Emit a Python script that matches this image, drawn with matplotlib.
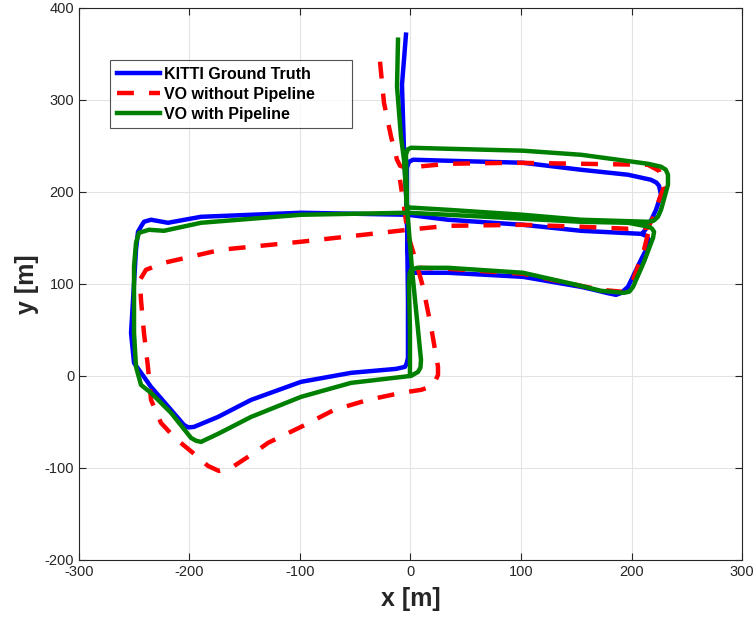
import numpy as np
import matplotlib
matplotlib.use("Agg")
import matplotlib.pyplot as plt

plt.rcParams["font.family"] = ["Liberation Sans", "DejaVu Sans"]
plt.rcParams["axes.unicode_minus"] = False

# KITTI ground truth (x, y in metres)
gt_x = [-4.1, -7.7, -5.9, -3.2, -2.3, -2.3, -3.5, -5.0, -13.1, -53.8, -99.1, -144.3, -174.2, -195.9, -201.0,
        -205.0, -216.7, -234.8, -250.2, -252.9, -251.1, -248.4, -246.6, -243.5, -241.2, -234.8, -219.5,
        -189.6, -99.1, -2.3, 33.9, 101.8, 154.3, 208.6, 213.5, 215.8, 214.5, 208.6, 196.8, 190.5, 186.0,
        178.0, 166.1, 154.3, 101.8, 33.9, 3.2, 0.0, -1.4, -3.2, -3.2, -1.5, 2.3, 33.9, 101.8, 154.3, 196.8,
        217.6, 222.5, 224.9, 226.7, 222.2, 215.8, 210.4]
gt_y = [370.7, 316.3, 245.7, 175.0, 82.6, 19.6, 13.5, 9.8, 7.6, 3.3, -6.5, -26.1, -44.6, -55.4, -56.0,
        -53.3, -37.0, -12.0, 14.1, 46.7, 82.6, 137.0, 156.5, 163.0, 167.4, 169.6, 166.3,
        172.8, 177.2, 175.0, 169.6, 164.1, 157.6, 154.3, 152.0, 147.8, 140.0, 126.1, 96.7, 90.0, 88.0,
        90.0, 93.5, 96.7, 107.6, 112.0, 112.0, 110.5, 106.5, 169.6, 226.1, 232.5, 234.8, 233.7, 231.5,
        223.9, 218.5, 213.0, 210.0, 206.5, 196.7, 180.4, 164.1, 155.4]

# VO without pipeline: main run + lower loop
vo_x = [-27.6, -24.0, -17.6, -12.2, -9.5, -4.1, 33.9, 93.7, 154.3, 214.9, 224.9, 229.4, 224.0, 219.5,
        214.9, 196.8, 154.3, 101.8, 33.9, -2.3, -99.1, -171.5, -223.1, -239.4, -244.8, -243.9, -241.2,
        -237.6, -234.8, -225.8, -212.2, -196.8, -183.3, -173.3, -162.4, -141.6, -129.0, -99.1, -69.2,
        -38.5, -8.6, 9.5, 20.4, 24.9, 24.9, 18.6, 11.3, 3.2, -2.3, -5.9, -9.5]
vo_y = [341.3, 296.7, 259.8, 234.8, 228.3, 226.1, 230.4, 231.5, 230.4, 229.3, 222.8, 205.4, 188.0, 171.7,
        160.9, 159.8, 162.0, 164.1, 163.0, 158.7, 145.7, 137.0, 122.8, 115.2, 104.3, 82.6, 46.7,
        9.8, -26.1, -51.1, -68.5, -83.7, -97.8, -103.3, -100.0, -83.7, -72.8, -55.4, -37.0,
        -26.1, -18.5, -15.2, -10.9, 1.1, 9.8, 53.3, 96.7, 131.5, 153.3, 183.7, 213.0]
vo_loop_x = [214.9, 211.3, 201.4, 192.3, 172.4, 154.3, 101.8, 33.9, 7.7]
vo_loop_y = [154.3, 137.0, 104.3, 91.3, 93.5, 97.8, 110.9, 116.3, 117.4]

# VO with pipeline
pl_x = [-0.5, -0.5, -1.4, -0.8, 0.5, 5.9, 33.9, 101.8, 154.3, 172.4, 193.2, 198.0, 201.4, 211.3, 219.5,
        220.4, 218.5, 215.8, 196.8, 154.3, 101.8, 33.9, -2.3, -99.1, -189.6, -223.1, -236.7, -245.7,
        -248.4, -250.2, -250.2, -248.4, -243.9, -234.8, -216.7, -198.6, -194.0, -189.6, -174.2, -144.3,
        -99.1, -53.8, 0.5, 6.8, 9.0, 9.5, 5.9, 1.4, -3.2, -1.0, 3.2, 33.9, 101.8, 154.3, 214.9, 220.0,
        223.9, 226.7, 233.0, 233.0, 231.0, 226.7, 214.9, 154.3, 101.8, 33.9, 0.5, -2.5, -4.1, -3.2, -5.9,
        -8.6, -12.2, -11.3]
pl_y = [2.2, 50.0, 98.9, 112.0, 115.2, 117.4, 117.4, 112.0, 97.8, 92.4, 90.2, 91.5, 96.7, 123.9, 150.0,
        156.5, 160.0, 162.0, 166.3, 167.4, 170.7, 175.0, 177.2, 175.0, 166.3, 157.6, 158.7, 155.4,
        144.6, 118.5, 46.7, 9.8, -9.8, -18.5, -40.2, -67.4, -70.5, -71.7, -63.0, -44.6,
        -22.8, -7.6, 0.0, 4.3, 9.0, 17.4, 60.9, 115.2, 183.7, 182.8, 182.6, 180.4, 175.0, 169.6, 167.4,
        168.5, 172.8, 180.4, 207.6, 218.5, 224.0, 227.2, 230.4, 240.2, 244.6, 246.7, 247.8, 246.0, 240.2,
        183.7, 234.8, 259.8, 314.1, 365.2]

fig = plt.figure(figsize=(7.53, 6.22), dpi=100)
ax = fig.add_axes([0.1049, 0.0997, 0.8805, 0.888])

lw = 3.2
ax.plot(gt_x, gt_y, color="#0000ff", lw=lw, solid_joinstyle="round", label="KITTI Ground Truth")
ax.plot(vo_x, vo_y, color="#ff0000", lw=lw, dashes=(3.8, 3.4), label="VO without Pipeline")
ax.plot(vo_loop_x, vo_loop_y, color="#ff0000", lw=lw, dashes=(3.8, 3.4))
ax.plot(pl_x, pl_y, color="#008000", lw=lw, solid_joinstyle="round", label="VO with Pipeline")

ax.set_xlim(-300, 300)
ax.set_ylim(-200, 400)
ax.set_xticks(np.arange(-300, 301, 100))
ax.set_yticks(np.arange(-200, 401, 100))
ax.grid(True, color="#e3e3e3", lw=0.8)
ax.set_axisbelow(True)
ax.tick_params(direction="in", top=True, right=True, length=5, width=0.8,
               colors="#262626", labelsize=10.5)
for s in ax.spines.values():
    s.set_color("#262626")
    s.set_linewidth(0.8)

ax.set_xlabel("x [m]", fontsize=18, fontweight="bold", color="#262626", labelpad=6)
ax.set_ylabel("y [m]", fontsize=18, fontweight="bold", color="#262626", labelpad=4)

leg = ax.legend(loc="upper left", bbox_to_anchor=(0.047, 0.805, 0.365, 0.1), mode="expand",
                prop={"weight": "bold", "size": 11.5}, frameon=True, fancybox=False,
                edgecolor="#262626", handlelength=2.7, handletextpad=0.25,
                labelspacing=0.33, borderpad=0.4, borderaxespad=0)
leg.get_frame().set_linewidth(0.8)

fig.savefig("out.png", dpi=100)
